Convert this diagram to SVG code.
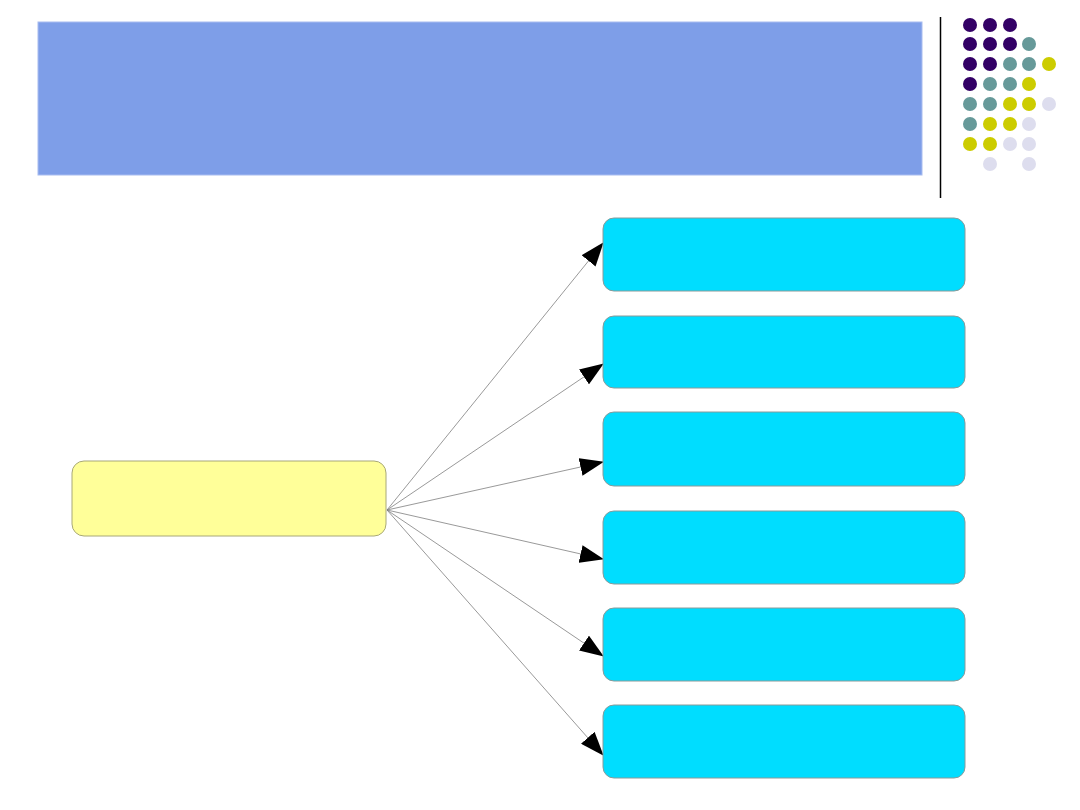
<svg xmlns="http://www.w3.org/2000/svg" width="1080" height="810" viewBox="0 0 1080 810">
<defs>
<style>
.box{fill:#00DDFF;stroke:#8a9a9a;stroke-width:1}
.conn{stroke:#7f7f7f;stroke-width:0.8;fill:none;marker-end:url(#ah)}
.p{fill:#330066}.t{fill:#669999}.y{fill:#CCCC00}.l{fill:#DDDDEE}
</style>
<marker id="ah" markerUnits="userSpaceOnUse" markerWidth="24" markerHeight="18" viewBox="0 0 24 18" refX="23" refY="9" orient="auto">
<path d="M0,0 L24,9 L0,18 Z" fill="#000"/>
</marker>
</defs>
<rect width="1080" height="810" fill="#fff"/>
<rect id="header" x="38" y="22" width="884" height="153" fill="#7E9EE8" stroke="#a8bcf0" stroke-width="1"/>
<line x1="940.5" y1="17" x2="940.5" y2="198" stroke="#000" stroke-width="1.5"/>
<g id="dots">
<circle class="p" cx="970" cy="25" r="7"/><circle class="p" cx="990" cy="25" r="7"/><circle class="p" cx="1010" cy="25" r="7"/>
<circle class="p" cx="970" cy="44" r="7"/><circle class="p" cx="990" cy="44" r="7"/><circle class="p" cx="1010" cy="44" r="7"/><circle class="t" cx="1029" cy="44" r="7"/>
<circle class="p" cx="970" cy="64" r="7"/><circle class="p" cx="990" cy="64" r="7"/><circle class="t" cx="1010" cy="64" r="7"/><circle class="t" cx="1029" cy="64" r="7"/><circle class="y" cx="1049" cy="64" r="7"/>
<circle class="p" cx="970" cy="84" r="7"/><circle class="t" cx="990" cy="84" r="7"/><circle class="t" cx="1010" cy="84" r="7"/><circle class="y" cx="1029" cy="84" r="7"/>
<circle class="t" cx="970" cy="104" r="7"/><circle class="t" cx="990" cy="104" r="7"/><circle class="y" cx="1010" cy="104" r="7"/><circle class="y" cx="1029" cy="104" r="7"/><circle class="l" cx="1049" cy="104" r="7"/>
<circle class="t" cx="970" cy="124" r="7"/><circle class="y" cx="990" cy="124" r="7"/><circle class="y" cx="1010" cy="124" r="7"/><circle class="l" cx="1029" cy="124" r="7"/>
<circle class="y" cx="970" cy="144" r="7"/><circle class="y" cx="990" cy="144" r="7"/><circle class="l" cx="1010" cy="144" r="7"/><circle class="l" cx="1029" cy="144" r="7"/>
<circle class="l" cx="990" cy="164" r="7"/><circle class="l" cx="1029" cy="164" r="7"/>
</g>
<g id="connectors">
<line class="conn" x1="387" y1="510" x2="603" y2="243"/>
<line class="conn" x1="387" y1="510" x2="603" y2="364"/>
<line class="conn" x1="387" y1="510" x2="603" y2="462"/>
<line class="conn" x1="387" y1="510" x2="603" y2="559"/>
<line class="conn" x1="387" y1="510" x2="603" y2="656"/>
<line class="conn" x1="387" y1="510" x2="603" y2="755"/>
</g>
<g id="root"><rect x="72" y="461" width="314" height="75" rx="12" fill="#FFFF99" stroke="#a8a878" stroke-width="1"/></g>
<g id="n1"><rect class="box" x="603" y="218" width="362" height="73" rx="11"/></g>
<g id="n2"><rect class="box" x="603" y="316" width="362" height="72" rx="11"/></g>
<g id="n3"><rect class="box" x="603" y="412" width="362" height="74" rx="11"/></g>
<g id="n4"><rect class="box" x="603" y="511" width="362" height="73" rx="11"/></g>
<g id="n5"><rect class="box" x="603" y="608" width="362" height="73" rx="11"/></g>
<g id="n6"><rect class="box" x="603" y="705" width="362" height="73" rx="11"/></g>
</svg>
